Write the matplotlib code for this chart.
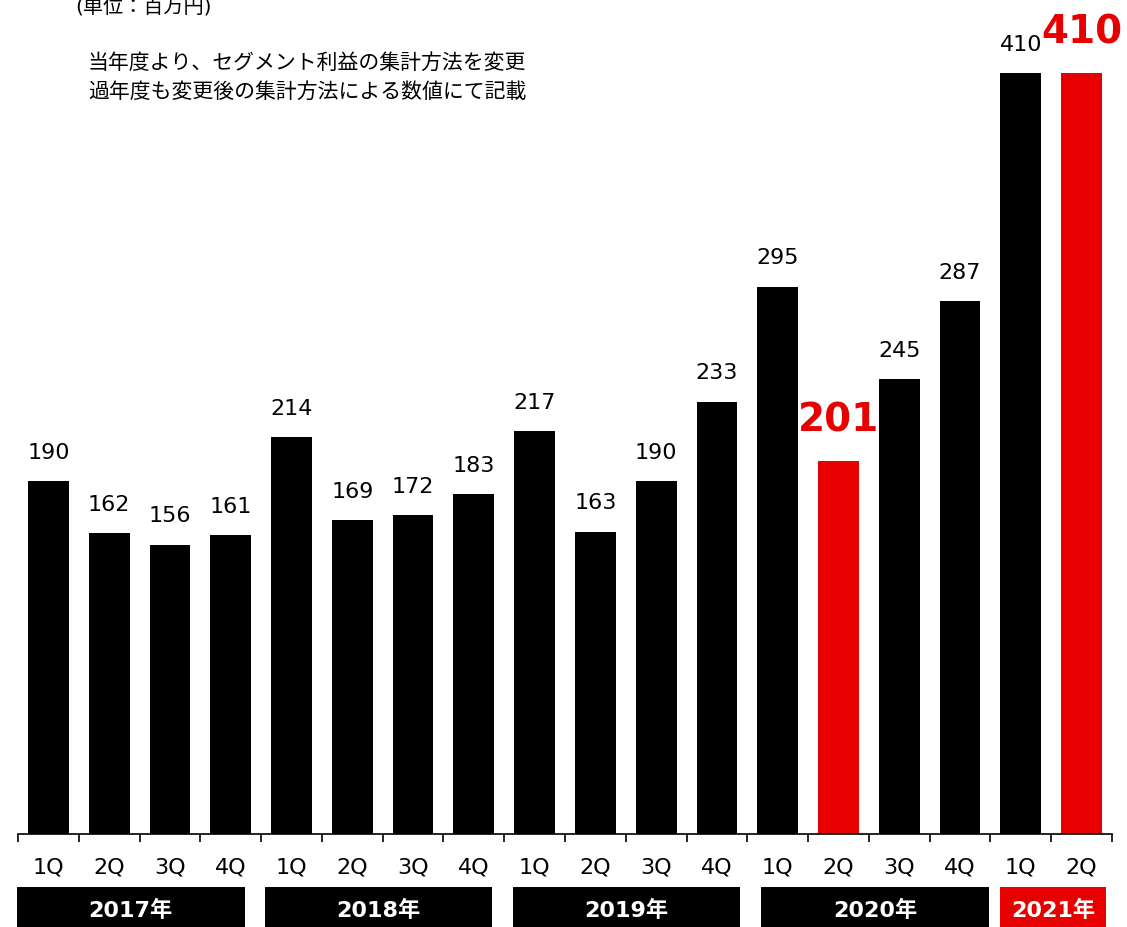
import matplotlib
matplotlib.use("Agg")
import matplotlib.pyplot as plt
from matplotlib.patches import Rectangle
import matplotlib.transforms as mtransforms

plt.rcParams['font.family'] = ['DejaVu Sans', 'Noto Sans CJK JP']

# segment profit by quarter (million yen)
quarters = ["1Q", "2Q", "3Q", "4Q"] * 4 + ["1Q", "2Q"]
values = [190, 162, 156, 161, 214, 169, 172, 183, 217, 163, 190, 233,
          295, 201, 245, 287, 410, 410]
highlight = [13, 17]
years = ["2017年", "2018年", "2019年", "2020年", "2021年"]
year_spans = [(-0.52, 3.23), (3.56, 7.30), (7.64, 11.38), (11.72, 15.48), (15.66, 17.40)]

RED = "#E60000"

fig = plt.figure(figsize=(11.27, 9.28), dpi=100)
ax = fig.add_axes([18 / 1127, 93 / 928, 1094 / 1127, 835 / 928])

x = range(len(values))
colors = [RED if i in highlight else "black" for i in x]
ax.bar(x, values, width=0.67, color=colors)

for i, v in enumerate(values):
    if i in highlight:
        ax.annotate(str(v), (i, v), xytext=(0, 30), textcoords="offset points",
                    ha="center", va="center", fontsize=28, fontweight="bold",
                    color=RED)
    else:
        ax.annotate(str(v), (i, v), xytext=(0, 21), textcoords="offset points",
                    ha="center", va="center", fontsize=16)

ax.set_xlim(-0.5, len(values) - 0.5)
ax.set_ylim(0, 450)
for s in ["top", "right", "left"]:
    ax.spines[s].set_visible(False)
ax.spines["bottom"].set_linewidth(1.2)
ax.set_yticks([])

# ticks at the boundaries between bars
ax.set_xticks([i - 0.5 for i in range(len(values) + 1)], minor=False)
ax.set_xticklabels([])
ax.tick_params(axis="x", direction="out", length=6, width=1.2)

# quarter labels
trans = mtransforms.blended_transform_factory(ax.transData, fig.transFigure)
for i, q in enumerate(quarters):
    ax.text(i, 1 - 868 / 928, q, transform=trans, ha="center", va="center",
            fontsize=16)

# year boxes
for k, (yr, (x0, x1)) in enumerate(zip(years, year_spans)):
    col = RED if k == len(years) - 1 else "black"
    ax.add_patch(Rectangle((x0, 0), x1 - x0, 40 / 928, transform=trans,
                           facecolor=col, edgecolor="none", clip_on=False))
    ax.text((x0 + x1) / 2, 1 - 910 / 928, yr, transform=trans, ha="center",
            va="center", fontsize=16, color="white", fontweight="bold")

fig.text(75 / 1127, 1 - 8 / 928, "(単位：百万円)", fontsize=14.5,
         ha="left", va="center")
fig.text(88 / 1127, 1 - 63 / 928, "当年度より、セグメント利益の集計方法を変更",
         fontsize=15, ha="left", va="center")
fig.text(88 / 1127, 1 - 92 / 928, "過年度も変更後の集計方法による数値にて記載",
         fontsize=15, ha="left", va="center")

fig.savefig("out.png", dpi=100)
